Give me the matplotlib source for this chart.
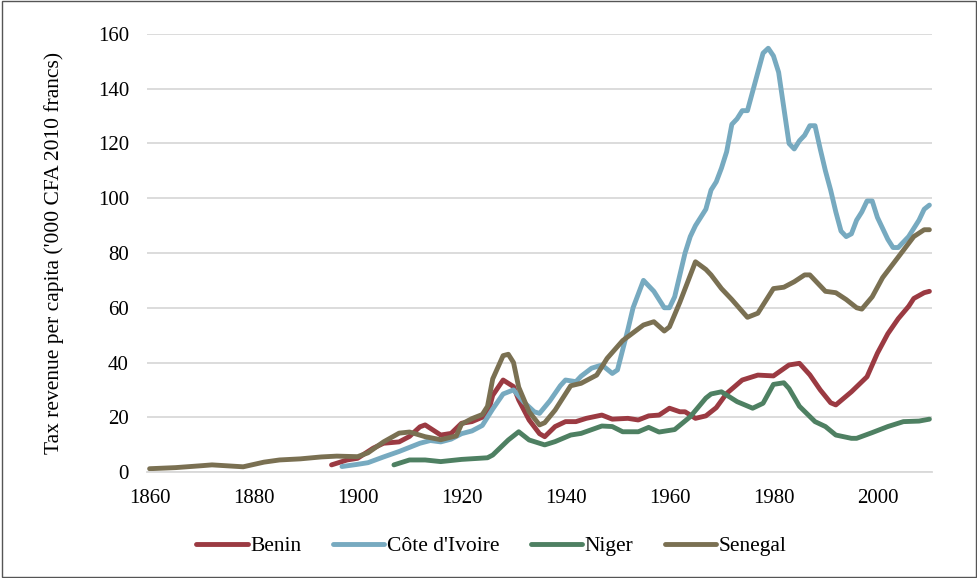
import matplotlib
matplotlib.use("Agg")
import matplotlib.pyplot as plt
from matplotlib.patches import Rectangle

plt.rcParams['font.family'] = ['Liberation Serif', 'DejaVu Serif']

senegal_years = [1860,1865,1870,1872,1878,1882,1885,1889,1893,1896,1900,1902,1905,1908,1910,1913,1916,1919,1920,1922,1924,1925,1926,1928,1929,1930,1931,1933,1935,1936,1938,1941,1943,1946,1948,1951,1955,1957,1959,1960,1962,1965,1967,1968,1970,1972,1975,1977,1980,1982,1984,1986,1987,1988,1990,1992,1994,1996,1997,1999,2001,2003,2005,2007,2009,2010]
senegal_vals = [1.2,1.6,2.3,2.6,1.9,3.6,4.4,4.8,5.5,5.8,5.6,7.0,11,14.2,14.6,12.9,11.8,13.2,17.5,19.5,21,24,34,42.5,43,40,31,22,17.2,18,22.6,31.5,32.4,35.4,41.5,48,53.7,54.9,51.5,53,62,76.8,74,72,67,63,56.5,58,67,67.5,69.5,72,72,70,66,65.5,63,60,59.5,64,71,76,81,86,88.5,88.5]

civ_years = [1897,1900,1902,1905,1908,1910,1912,1914,1916,1918,1920,1922,1924,1926,1928,1930,1932,1934,1935,1937,1939,1940,1942,1943,1945,1947,1949,1950,1952,1953,1955,1957,1959,1960,1961,1962,1963,1964,1965,1966,1967,1968,1969,1970,1971,1972,1973,1974,1975,1976,1977,1978,1979,1980,1981,1982,1983,1984,1985,1986,1987,1988,1989,1990,1991,1992,1993,1994,1995,1996,1997,1998,1999,2000,2001,2002,2003,2004,2005,2006,2007,2008,2009,2010]
civ_vals = [2.0,2.8,3.4,5.5,7.5,9,10.5,11.5,11,12,14,15,17,23,28.5,30,25.5,22,21.4,26,31.5,33.6,33,35,37.9,39.1,36,37.3,52,60,70,66,60,60,64,72,80,86,90,93,96,103,106,111,117,127,129,132,132,139,146,153,154.8,152,146,133,120,118,121,123,126.5,126.5,118,110,103,95,88,86,87,92,95,99,99,93,89,85,82,82,84,86,89,92,96,97.5]

benin_years = [1895,1898,1900,1903,1905,1908,1910,1912,1913,1916,1918,1920,1922,1925,1926,1928,1930,1931,1933,1935,1936,1938,1940,1942,1944,1947,1949,1952,1954,1956,1958,1960,1962,1963,1965,1967,1969,1971,1974,1977,1980,1983,1985,1987,1989,1991,1992,1995,1998,2000,2002,2004,2006,2007,2009,2010]
benin_vals = [2.6,4.4,5,8.7,10.5,11,13,16.5,17.2,13.5,14.1,17.8,18.4,20.8,28,33.6,31.2,26.3,19,14,12.9,16.6,18.4,18.4,19.6,20.8,19.3,19.6,19,20.5,20.8,23.3,22,22,19.6,20.5,23.5,28.7,33.6,35.4,35.1,39.1,39.7,35.5,30,25.3,24.5,29.3,34.8,43.4,50.5,56,60.5,63.4,65.5,66]

niger_years = [1907,1910,1913,1916,1920,1925,1926,1929,1931,1933,1936,1938,1941,1943,1947,1949,1951,1954,1956,1958,1961,1964,1967,1968,1970,1973,1976,1978,1980,1982,1983,1985,1988,1990,1992,1995,1996,1999,2002,2005,2008,2010]
niger_vals = [2.6,4.4,4.4,3.8,4.6,5.2,6.2,11.7,14.7,11.7,9.9,11.1,13.5,14.1,16.8,16.6,14.7,14.7,16.3,14.6,15.5,20.2,27,28.5,29.3,25.7,23.3,25.1,32,32.6,30.5,24,18.4,16.6,13.5,12.3,12.3,14.4,16.6,18.4,18.6,19.3]

labels = ["Benin", "Côte d'Ivoire", "Niger", "Senegal"]
colors = ['#9B3A42', '#77AAC0', '#4E8062', '#7A7052']

fig = plt.figure(figsize=(9.78, 5.78), dpi=100)
ax = fig.add_axes([147/978, 1-472/578, (932-147)/978, (472-34)/578])

series = [(benin_years, benin_vals), (civ_years, civ_vals), (niger_years, niger_vals), (senegal_years, senegal_vals)]
for (yrs, vals), lab, c in zip(series, labels, colors):
    ax.plot(yrs, vals, color=c, lw=3.5, label=lab, solid_capstyle='round', solid_joinstyle='round')

ax.set_xlim(1859.5, 2010.5)
ax.set_ylim(0, 160)
ax.set_xticks(range(1860, 2001, 20))
ax.set_yticks(range(0, 161, 20))
ax.grid(axis='y', color='#d9d9d9', lw=1.3)
ax.set_axisbelow(True)
for s in ['top', 'right', 'left']:
    ax.spines[s].set_visible(False)
ax.spines['bottom'].set_color('#d9d9d9')
ax.spines['bottom'].set_linewidth(1.3)
ax.tick_params(length=0, labelsize=15, colors='black')
ax.tick_params(axis='y', pad=13)
ax.tick_params(axis='x', pad=12)

fig.text(54/978, 1-253/578, "Tax revenue per capita ('000 CFA 2010 francs)", rotation=90,
         ha='center', va='center', fontsize=15.5)

fig.legend(loc='center', bbox_to_anchor=(0.5025, 1-546/578), ncol=4, frameon=False,
           fontsize=15.5, handlelength=2.4, handletextpad=0.12, columnspacing=1.45)

fig.patches.append(Rectangle((0.002, 0.002), 0.996, 0.996, transform=fig.transFigure,
                             fill=False, edgecolor='#555555', lw=1))

fig.savefig('out.png', dpi=100)
